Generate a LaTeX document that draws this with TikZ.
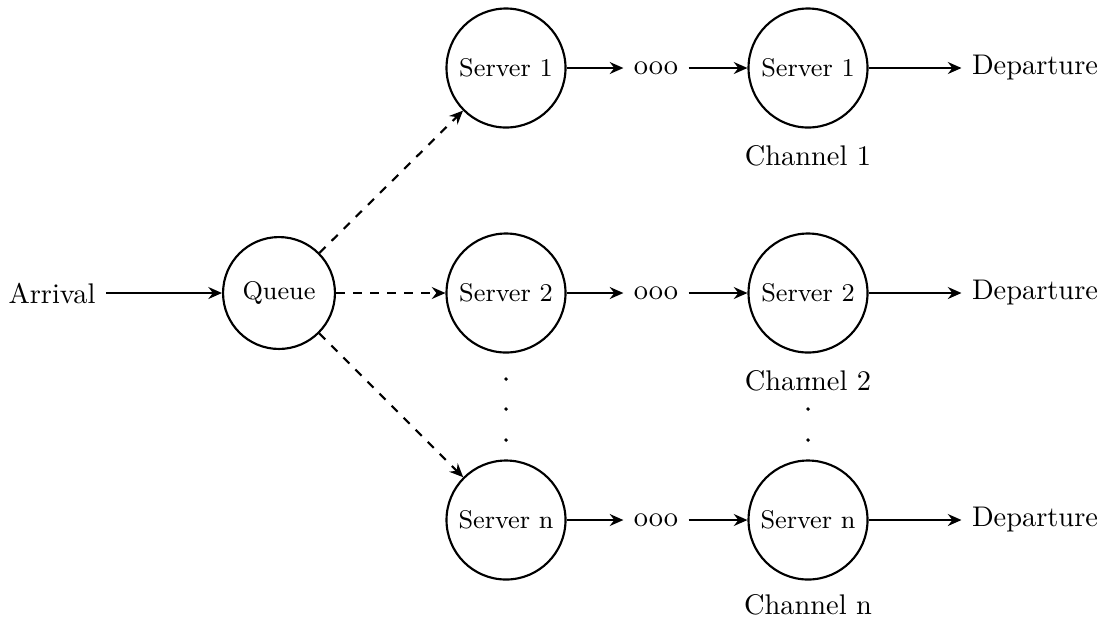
\documentclass[tikz,border=0pt]{standalone}
\usetikzlibrary{arrows.meta}
\begin{document}
\begin{tikzpicture}[x=0.3521pt,y=-0.3521pt,
  line width=0.75pt,
  srv/.style={circle,draw,inner sep=0pt,minimum size=41.9pt,font=\small},
  que/.style={circle,draw,inner sep=0pt,minimum size=39.4pt,font=\small},
  lbl/.style={inner sep=3.33pt},
  arr/.style={-{Stealth[length=4.8pt,width=4.2pt,inset=1.6pt]}},
  darr/.style={arr,dashed},
  dotm/.style={circle,fill,inner sep=0pt,minimum size=1.4pt}]
\useasboundingbox (0,0) rectangle (1107,624);
\node[lbl] (arr) at (52,293) {Arrival};
\node[que] (q) at (279,293) {Queue};
\node[srv] (s1) at (506,68) {Server 1};
\node[srv] (s2) at (506,293) {Server 2};
\node[srv] (sn) at (506,520) {Server n};
\node[lbl] (o1) at (656,68) {ooo};
\node[lbl] (o2) at (656,293) {ooo};
\node[lbl] (on) at (656,520) {ooo};
\node[srv] (t1) at (808,68) {Server 1};
\node[srv] (t2) at (808,293) {Server 2};
\node[srv] (tn) at (808,520) {Server n};
\node[lbl] (d1) at (1035,68) {Departure};
\node[lbl] (d2) at (1035,293) {Departure};
\node[lbl] (dn) at (1035,520) {Departure};
\node[lbl] (c1) at (808,156) {Channel 1};
\node[lbl] (c2) at (808,381) {Channel 2};
\node[lbl] (cn) at (808,605) {Channel n};
\node[dotm] (a1) at (506,379) {};
\node[dotm] (a2) at (506,409) {};
\node[dotm] (a3) at (506,440) {};
\node[dotm] (b1) at (808,379) {};
\node[dotm] (b2) at (808,409) {};
\node[dotm] (b3) at (808,440) {};
\draw[arr] (arr) -- (q);
\draw[darr] (q) -- (s1);
\draw[darr] (q) -- (s2);
\draw[darr] (q) -- (sn);
\draw[arr] (s1) -- (o1);
\draw[arr] (s2) -- (o2);
\draw[arr] (sn) -- (on);
\draw[arr] (o1) -- (t1);
\draw[arr] (o2) -- (t2);
\draw[arr] (on) -- (tn);
\draw[arr] (t1) -- (d1);
\draw[arr] (t2) -- (d2);
\draw[arr] (tn) -- (dn);
\end{tikzpicture}
\end{document}
